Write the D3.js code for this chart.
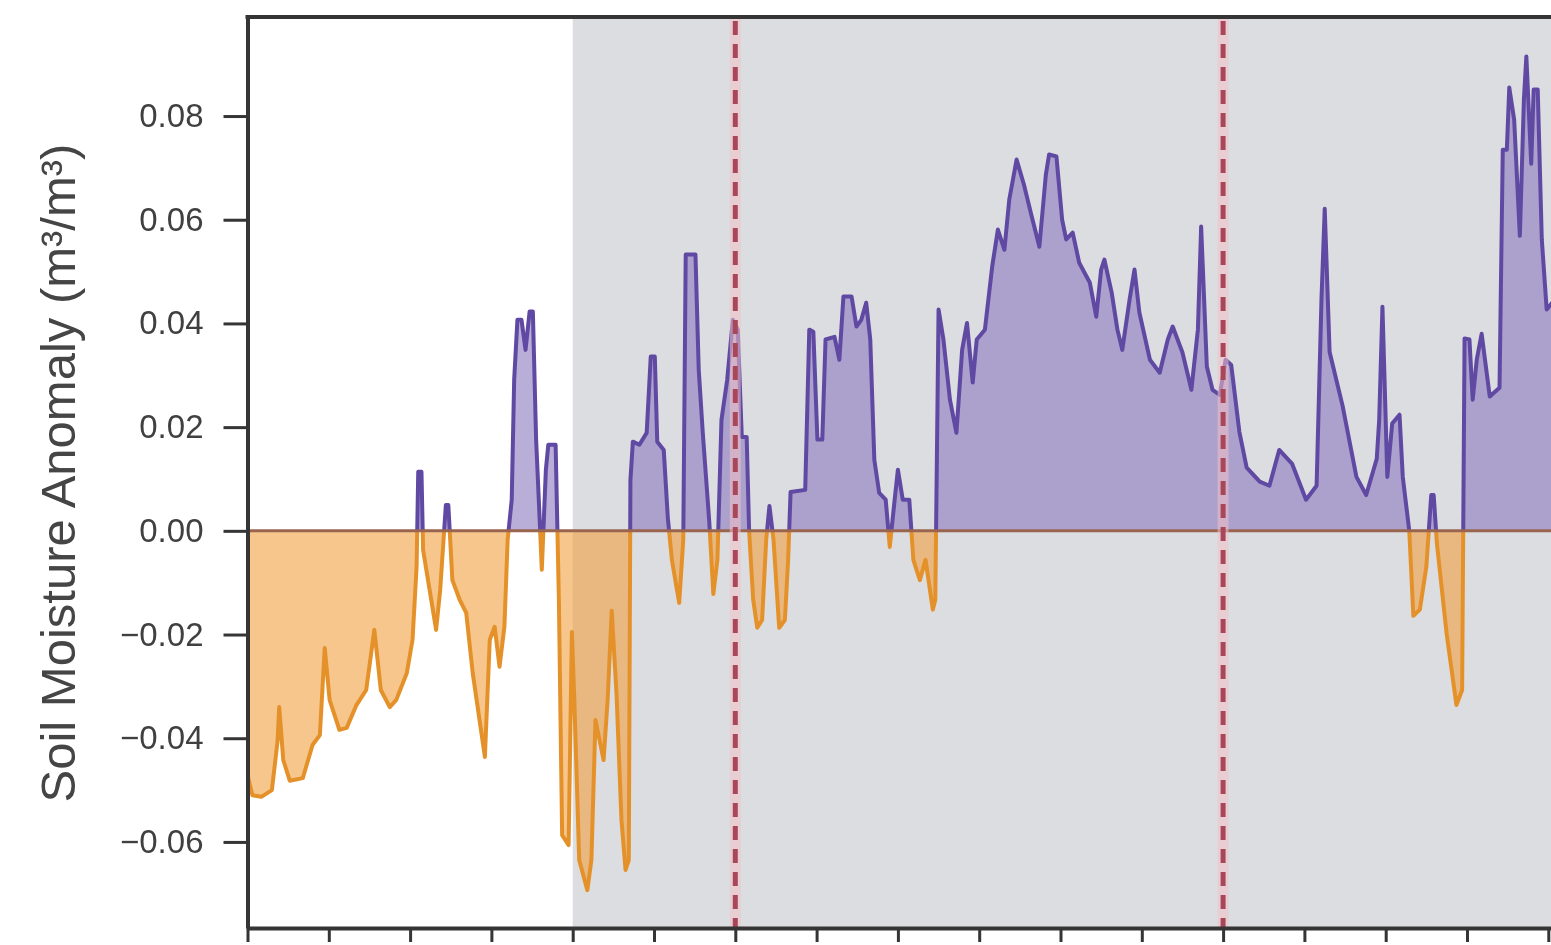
<!DOCTYPE html>
<html>
<head>
<meta charset="utf-8">
<script src="https://cdn.jsdelivr.net/npm/d3@7"></script>
<style>
  html, body { margin: 0; padding: 0; background: #fff; overflow: hidden; }
  svg { display: block; font-family: "Liberation Sans", Arial, Helvetica, sans-serif; }
</style>
</head>
<body>
<div id="chart"></div>
<script>
// time axis, in months from the start of the record
var months = [
  0.00,0.06,0.17,0.30,0.37,0.39,0.44,0.52,0.68,0.80,
  0.89,0.95,1.01,1.13,1.22,1.34,1.46,1.56,1.64,1.75,
  1.83,1.96,2.03,2.08,2.10,2.14,2.16,2.24,2.32,2.37,
  2.44,2.47,2.52,2.61,2.69,2.77,2.92,2.98,3.04,3.10,
  3.16,3.20,3.25,3.28,3.32,3.37,3.42,3.47,3.51,3.55,
  3.59,3.62,3.67,3.70,3.79,3.83,3.87,3.95,3.99,4.02,
  4.08,4.18,4.23,4.28,4.33,4.38,4.43,4.48,4.54,4.60,
  4.65,4.69,4.71,4.74,4.82,4.91,4.96,5.01,5.04,5.12,
  5.17,5.22,5.31,5.36,5.39,5.51,5.55,5.60,5.68,5.73,
  5.78,5.83,5.90,5.97,6.03,6.08,6.14,6.17,6.22,6.27,
  6.33,6.38,6.42,6.47,6.54,6.61,6.65,6.68,6.86,6.91,
  6.96,7.01,7.07,7.11,7.22,7.28,7.33,7.43,7.49,7.55,
  7.61,7.66,7.71,7.77,7.85,7.90,7.96,8.00,8.06,8.14,
  8.19,8.27,8.34,8.43,8.46,8.50,8.56,8.64,8.72,8.79,
  8.85,8.92,8.97,9.07,9.16,9.23,9.31,9.37,9.46,9.55,
  9.64,9.74,9.82,9.86,9.95,10.02,10.07,10.15,10.23,10.36,
  10.44,10.50,10.54,10.63,10.70,10.76,10.85,10.91,10.97,11.10,
  11.22,11.32,11.38,11.50,11.61,11.69,11.73,11.80,11.87,11.96,
  12.03,12.10,12.20,12.29,12.45,12.57,12.69,12.85,13.02,13.15,
  13.21,13.25,13.31,13.47,13.64,13.76,13.89,13.92,13.96,14.02,
  14.08,14.17,14.21,14.29,14.34,14.42,14.50,14.56,14.59,14.63,
  14.75,14.87,14.94,14.97,15.03,15.07,15.12,15.18,15.28,15.40,
  15.44,15.49,15.52,15.58,15.65,15.70,15.73,15.79,15.82,15.87,
  15.92,15.98,16.08
];

// soil moisture anomaly (m3/m3)
var anomaly = [
  -0.0471,-0.0510,-0.0513,-0.0500,-0.0405,-0.0340,-0.0442,-0.0482,-0.0477,-0.0413,
  -0.0394,-0.0226,-0.0326,-0.0384,-0.0380,-0.0336,-0.0307,-0.0191,-0.0307,-0.0340,
  -0.0326,-0.0274,-0.0210,-0.0069,0.0114,0.0114,-0.0037,-0.0114,-0.0191,-0.0114,
  0.0050,0.0050,-0.0095,-0.0133,-0.0158,-0.0274,-0.0436,-0.0210,-0.0185,-0.0262,
  -0.0185,-0.0017,0.0060,0.0291,0.0407,0.0407,0.0349,0.0423,0.0423,0.0176,
  0.0035,-0.0075,0.0118,0.0166,0.0166,-0.0133,-0.0587,-0.0606,-0.0195,-0.0326,
  -0.0635,-0.0693,-0.0635,-0.0365,-0.0403,-0.0442,-0.0326,-0.0154,-0.0318,-0.0558,
  -0.0654,-0.0635,0.0098,0.0172,0.0166,0.0189,0.0336,0.0336,0.0172,0.0156,
  0.0025,-0.0056,-0.0139,-0.0017,0.0533,0.0533,0.0311,0.0189,0.0017,-0.0122,
  -0.0056,0.0214,0.0291,0.0407,0.0388,0.0181,0.0181,0.0000,-0.0133,-0.0187,
  -0.0172,-0.0017,0.0048,-0.0017,-0.0187,-0.0172,-0.0056,0.0075,0.0079,0.0388,
  0.0384,0.0176,0.0176,0.0369,0.0374,0.0330,0.0452,0.0452,0.0394,0.0407,
  0.0440,0.0369,0.0137,0.0073,0.0060,-0.0031,0.0060,0.0118,0.0060,0.0060,
  -0.0056,-0.0095,-0.0056,-0.0152,-0.0133,0.0427,0.0369,0.0253,0.0189,0.0349,
  0.0401,0.0286,0.0369,0.0388,0.0510,0.0581,0.0542,0.0639,0.0716,0.0668,
  0.0610,0.0548,0.0687,0.0726,0.0722,0.0600,0.0562,0.0575,0.0517,0.0479,
  0.0413,0.0504,0.0523,0.0459,0.0388,0.0349,0.0446,0.0504,0.0421,0.0330,
  0.0305,0.0369,0.0394,0.0344,0.0272,0.0388,0.0587,0.0317,0.0272,0.0262,
  0.0330,0.0320,0.0191,0.0122,0.0095,0.0087,0.0156,0.0129,0.0060,0.0087,
  0.0446,0.0621,0.0345,0.0241,0.0104,0.0069,0.0139,0.0214,0.0432,0.0104,
  0.0207,0.0224,0.0104,0.0000,-0.0164,-0.0152,-0.0069,0.0069,0.0069,-0.0025,
  -0.0199,-0.0336,-0.0307,0.0371,0.0369,0.0253,0.0330,0.0380,0.0259,0.0276,
  0.0735,0.0735,0.0855,0.0793,0.0569,0.0832,0.0915,0.0708,0.0851,0.0851,
  0.0562,0.0427,0.0446
];

var yTicks = [-0.06, -0.04, -0.02, 0.00, 0.02, 0.04, 0.06, 0.08];
var xTicks = d3.range(0, 17);
var shadeFrom = 4;        // grey period starts here (months)
var eventMonths = [6, 12]; // red dashed markers
var yLabel = "Soil Moisture Anomaly (m\u00b3/m\u00b3)";

var width = 1551, height = 945;
var margin = {left: 247.5, top: 17, bottom: 928};
var xMax = 16.3;

var x = d3.scaleLinear().domain([0, xMax]).range([margin.left, margin.left + xMax * 81.3]);
var y = d3.scaleLinear().domain([-0.0766, 0.0991]).range([margin.bottom, margin.top]);

var data = months.map(function(t, i) { return {t: t, v: anomaly[i]}; });

var svg = d3.select("#chart")
    .append("svg")
    .attr("width", width)
    .attr("height", height);

var defs = svg.append("defs");
var plotW = x(xMax) - x(0);
defs.append("clipPath").attr("id", "above")
    .append("rect")
    .attr("x", x(0)).attr("y", margin.top)
    .attr("width", plotW).attr("height", y(0) - margin.top);
defs.append("clipPath").attr("id", "below")
    .append("rect")
    .attr("x", x(0)).attr("y", y(0))
    .attr("width", plotW).attr("height", margin.bottom - y(0));
// the source figure is a soft, scanned-looking image
defs.append("filter").attr("id", "soft")
    .append("feGaussianBlur").attr("stdDeviation", 0.7);

var g = svg.append("g").attr("filter", "url(#soft)");

// grey shaded period
g.append("rect")
    .attr("x", x(shadeFrom))
    .attr("y", margin.top)
    .attr("width", x(xMax) - x(shadeFrom))
    .attr("height", margin.bottom - margin.top)
    .style("fill", "#dcdde0");

var area = d3.area()
    .x(function(d) { return x(d.t); })
    .y0(y(0))
    .y1(function(d) { return y(d.v); });

var line = d3.line()
    .x(function(d) { return x(d.t); })
    .y(function(d) { return y(d.v); });

// wet (above zero) in purple, dry (below zero) in orange
g.append("path").datum(data)
    .attr("clip-path", "url(#above)")
    .attr("d", area)
    .style("fill", "#8c7cc0").style("fill-opacity", 0.62);
g.append("path").datum(data)
    .attr("clip-path", "url(#below)")
    .attr("d", area)
    .style("fill", "#f0a040").style("fill-opacity", 0.6);

g.append("path").datum(data)
    .attr("clip-path", "url(#above)")
    .attr("d", line)
    .style("fill", "none").style("stroke", "#6049a3")
    .style("stroke-width", 4).style("stroke-linejoin", "round");
g.append("path").datum(data)
    .attr("clip-path", "url(#below)")
    .attr("d", line)
    .style("fill", "none").style("stroke", "#e5912b")
    .style("stroke-width", 4).style("stroke-linejoin", "round");

// zero line
g.append("line")
    .attr("x1", x(0)).attr("x2", x(xMax))
    .attr("y1", y(0)).attr("y2", y(0))
    .style("stroke", "#9a6550").style("stroke-width", 3);

// event markers
g.selectAll(".halo")
    .data(eventMonths)
    .enter().append("line")
    .attr("class", "halo")
    .attr("x1", function(d) { return x(d); }).attr("x2", function(d) { return x(d); })
    .attr("y1", margin.top).attr("y2", margin.bottom)
    .style("stroke", "#f3bfc6").style("stroke-width", 11).style("stroke-opacity", 0.55);
g.selectAll(".event")
    .data(eventMonths)
    .enter().append("line")
    .attr("class", "event")
    .attr("x1", function(d) { return x(d); }).attr("x2", function(d) { return x(d); })
    .attr("y1", margin.top + 4).attr("y2", margin.bottom)
    .style("stroke", "#a9475a").style("stroke-width", 5)
    .style("stroke-dasharray", "14,9");

// axes
var yAxis = g.append("g")
    .attr("transform", "translate(" + x(0) + ",0)")
    .call(d3.axisLeft(y).tickValues(yTicks).tickSize(24).tickSizeOuter(0)
        .tickPadding(20).tickFormat(d3.format(".2f")));
yAxis.select(".domain").style("stroke", "#353535").style("stroke-width", 4);
yAxis.selectAll(".tick line").style("stroke", "#353535").style("stroke-width", 3);
yAxis.selectAll(".tick text")
    .style("font-size", "33px").style("fill", "#404040")
    .style("font-family", "'Liberation Sans', Arial, sans-serif");

var xAxis = g.append("g")
    .attr("transform", "translate(0," + margin.bottom + ")")
    .call(d3.axisBottom(x).tickValues(xTicks).tickSize(14).tickSizeOuter(0).tickFormat(""));
xAxis.select(".domain").style("stroke", "#353535").style("stroke-width", 4);
xAxis.selectAll(".tick line").style("stroke", "#353535").style("stroke-width", 3);

// top frame
g.append("line")
    .attr("x1", x(0) - 2).attr("x2", x(xMax))
    .attr("y1", margin.top).attr("y2", margin.top)
    .style("stroke", "#353535").style("stroke-width", 4);

g.append("text")
    .attr("transform", "translate(58," + 473 + ") rotate(-90)")
    .attr("dy", ".35em")
    .style("text-anchor", "middle")
    .style("font-size", "49px")
    .style("fill", "#444")
    .text(yLabel);
</script>
</body>
</html>
